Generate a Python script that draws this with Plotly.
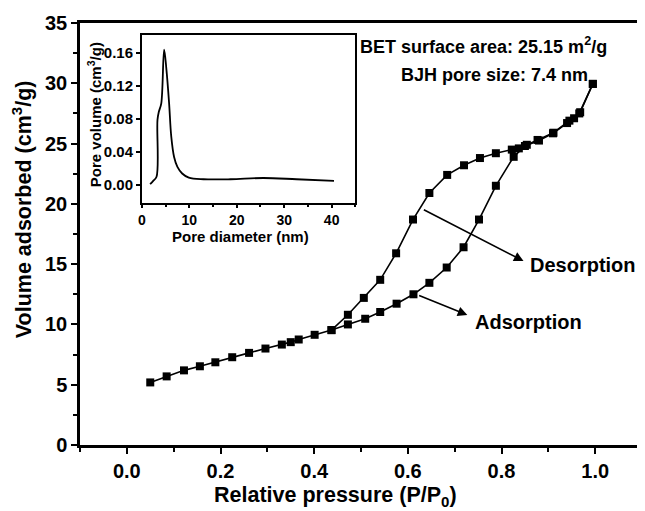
import plotly.graph_objects as go

# Main isotherm data (relative pressure P/P0, volume adsorbed cm3/g)
ads_p = [0.050, 0.085, 0.122, 0.156, 0.189, 0.225, 0.261, 0.296, 0.331, 0.350, 0.367,
         0.401, 0.437, 0.472, 0.509, 0.541, 0.576, 0.612, 0.646, 0.683, 0.719, 0.752,
         0.788, 0.826, 0.850, 0.880, 0.910, 0.940, 0.955, 0.968, 0.995]
ads_v = [5.19, 5.69, 6.19, 6.53, 6.86, 7.28, 7.64, 8.00, 8.33, 8.53, 8.75,
         9.14, 9.53, 10.00, 10.47, 11.03, 11.72, 12.50, 13.45, 14.72, 16.40, 18.70,
         21.50, 23.90, 24.80, 25.25, 25.85, 26.70, 27.10, 27.60, 29.95]

des_p = [0.995, 0.966, 0.945, 0.911, 0.877, 0.854, 0.837, 0.822, 0.788, 0.754, 0.720,
         0.684, 0.646, 0.611, 0.575, 0.541, 0.506, 0.472, 0.437]
des_v = [29.95, 27.50, 26.90, 25.90, 25.30, 24.90, 24.60, 24.50, 24.20, 23.80, 23.20,
         22.40, 20.90, 18.70, 15.90, 13.70, 12.20, 10.80, 9.53]

# Inset: pore size distribution
pore_d = [1.75, 2.4, 3.1, 3.3, 3.6, 4.1, 4.7, 5.2, 5.75, 6.2, 6.8, 7.5, 8.5, 9.9,
          13.0, 18.7, 25.6, 32.6, 40.5]
pore_v = [0.001, 0.005, 0.010, 0.079, 0.089, 0.099, 0.164, 0.139, 0.099, 0.059, 0.034,
          0.022, 0.014, 0.009, 0.007, 0.007, 0.0085, 0.007, 0.005]

x_ticks = [0.0, 0.2, 0.4, 0.6, 0.8, 1.0]
x_labels = ["0.0", "0.2", "0.4", "0.6", "0.8", "1.0"]
y_ticks = [0, 5, 10, 15, 20, 25, 30, 35]
in_x_ticks = [0, 10, 20, 30, 40]
in_y_ticks = [0.0, 0.04, 0.08, 0.12, 0.16]
in_y_labels = ["0.00", "0.04", "0.08", "0.12", "0.16"]

FONT = "Liberation Sans"
tickfont = dict(family=FONT, size=20, color="black", weight="bold")
infont = dict(family=FONT, size=15, color="black", weight="bold")

fig = go.Figure()
fig.add_trace(go.Scatter(x=ads_p, y=ads_v, mode="lines+markers",
                         line=dict(color="black", width=1.6),
                         marker=dict(symbol="square", size=8, color="black"),
                         showlegend=False))
fig.add_trace(go.Scatter(x=des_p, y=des_v, mode="lines+markers",
                         line=dict(color="black", width=1.6),
                         marker=dict(symbol="square", size=8, color="black"),
                         showlegend=False))
fig.add_trace(go.Scatter(x=pore_d, y=pore_v, mode="lines", xaxis="x2", yaxis="y2",
                         line=dict(color="black", width=1.8, shape="spline"),
                         showlegend=False))

axis_common = dict(showline=True, linecolor="black", mirror=True, showgrid=False,
                   zeroline=False, ticks="outside", tickcolor="black")

# page body has an 8px default margin, so the figure is 8px smaller
fig.update_layout(
    width=637, height=503,
    margin=dict(l=72, r=0, t=15, b=66),
    paper_bgcolor="white", plot_bgcolor="white",
    xaxis=dict(range=[-0.1, 1.1], tickvals=x_ticks, ticktext=x_labels,
               linewidth=2.5, ticklen=6, tickwidth=2, tickfont=tickfont,
               minor=dict(tickvals=[-0.1, 0.1, 0.3, 0.5, 0.7, 0.9, 1.1], ticklen=4,
                          ticks="outside", tickcolor="black", tickwidth=2),
               **axis_common),
    yaxis=dict(range=[0, 35], tickvals=y_ticks, linewidth=2.5, ticklen=6, tickwidth=2,
               tickfont=tickfont,
               minor=dict(dtick=2.5, ticklen=4, ticks="outside", tickcolor="black",
                          tickwidth=2),
               **axis_common),
    xaxis2=dict(domain=[0.110, 0.490], anchor="y2", range=[0, 45],
                tickvals=in_x_ticks, linewidth=1.5, ticklen=3, tickwidth=1.5,
                tickfont=dict(family=FONT, size=14, color="black", weight="bold"),
                minor=dict(dtick=5, ticklen=2, ticks="outside", tickcolor="black"),
                **axis_common),
    yaxis2=dict(domain=[0.573, 0.972], anchor="x2", range=[-0.022, 0.182],
                tickvals=in_y_ticks, ticktext=in_y_labels, linewidth=1.5, ticklen=4,
                tickwidth=1.5, tickfont=infont, **axis_common),
)

bold = lambda s: dict(family=FONT, size=s, color="black", weight="bold")
ann = []
# main axis titles
ann.append(dict(text="Volume adsorbed (cm<sup>3</sup>/g)", xref="paper", yref="paper",
                x=-0.103, y=0.559, textangle=-90, showarrow=False,
                xanchor="center", yanchor="middle", font=bold(21.5)))
ann.append(dict(text="Relative pressure (P/P<sub>0</sub>)", xref="paper", yref="paper",
                x=0.455, y=-0.121, showarrow=False,
                xanchor="center", yanchor="middle", font=bold(21.5)))
# inset titles
ann.append(dict(text="Pore diameter (nm)", xref="paper", yref="paper",
                x=0.285, y=0.494, showarrow=False,
                xanchor="center", yanchor="middle", font=bold(15)))
ann.append(dict(text="Pore volume (cm<sup>3</sup>/g)", xref="paper", yref="paper",
                x=0.027, y=0.782, textangle=-90, showarrow=False,
                xanchor="center", yanchor="middle", font=bold(15)))
# BET / BJH text
ann.append(dict(text="BET surface area: 25.15 m<sup>2</sup>/g", xref="x", yref="y",
                x=0.761, y=33.17, showarrow=False,
                xanchor="center", yanchor="middle", font=bold(18)))
ann.append(dict(text="BJH pore size: 7.4 nm", xref="x", yref="y",
                x=0.784, y=30.68, showarrow=False,
                xanchor="center", yanchor="middle", font=bold(18)))
# arrows
ann.append(dict(text="", xref="x", yref="y", axref="x", ayref="y",
                x=0.847, y=15.26, ax=0.631, ay=19.57, showarrow=True,
                arrowhead=2, arrowsize=1.2, arrowwidth=1.6, arrowcolor="black"))
ann.append(dict(text="", xref="x", yref="y", axref="x", ayref="y",
                x=0.727, y=10.78, ax=0.621, ay=12.44, showarrow=True,
                arrowhead=2, arrowsize=1.2, arrowwidth=1.6, arrowcolor="black"))
ann.append(dict(text="Desorption", xref="x", yref="y", x=0.856, y=14.93,
                xanchor="left", yanchor="middle", showarrow=False, font=bold(20)))
ann.append(dict(text="Adsorption", xref="x", yref="y", x=0.739, y=10.2,
                xanchor="left", yanchor="middle", showarrow=False, font=bold(20)))
fig.update_layout(annotations=ann)

fig.write_html("out.html")
